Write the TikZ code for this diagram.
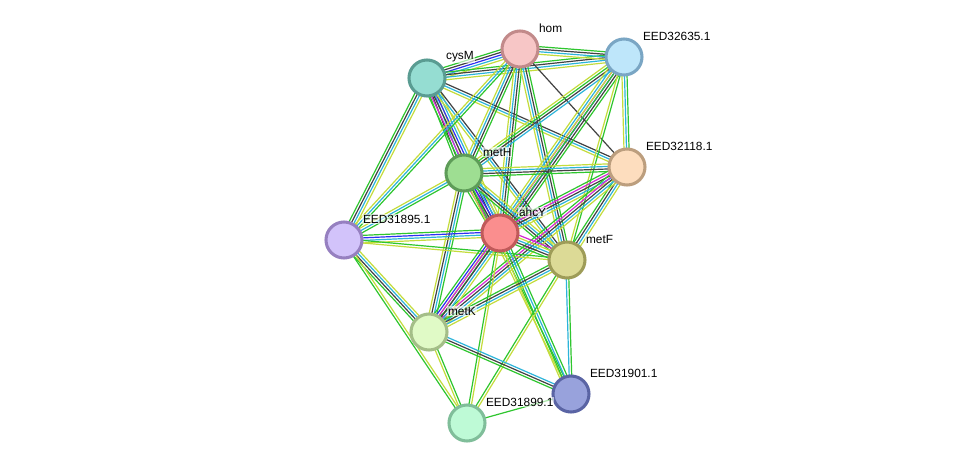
\documentclass[tikz,border=0pt]{standalone}
\usepackage{fontspec}
\setmainfont{Liberation Sans}
\usetikzlibrary{calc,backgrounds}
\definecolor{textmine}{HTML}{C4DC3C}
\definecolor{neighb}{HTML}{2EC62E}
\definecolor{curated}{HTML}{2CB4DA}
\definecolor{coexp}{HTML}{424242}
\definecolor{cooccur}{HTML}{2F2FF2}
\definecolor{experim}{HTML}{D22AD2}
\newcount\chcount
\newcommand{\link}[3]{%
  \global\chcount=0
  \foreach \c in {#3}{\global\advance\chcount by 1}%
  \foreach \c [count=\i] in {#3}{%
    \pgfmathsetmacro{\off}{(\i-(\the\chcount+1)/2)*1.9}%
    \draw[\c, line width=0.9pt]
      ($(#1.center)!\off pt!90:(#2.center)$) -- ($(#2.center)!\off pt!-90:(#1.center)$);
  }%
}
\newcommand{\protein}[6]{%
  \definecolor{#1fill}{HTML}{#4}%
  \definecolor{#1edge}{HTML}{#5}%
  \node[prot, fill=#1fill, draw=#1edge] (#1) at (#2,#3) {};
  \node[plabel] (#1-lbl) at ($(#1)+(18,-21)$) {#6};
}

\begin{document}
\begin{tikzpicture}[
  x=0.75pt,
  y=-0.75pt,
  prot/.style={circle, minimum size=27pt, inner sep=0pt, line width=2.3pt},
  plabel/.style={anchor=west, inner sep=0.6pt, fill=white, fill opacity=0.6,
    text opacity=1, font=\fontsize{8.9}{10}\selectfont}
]
  \protein{hom}{520}{49}{F7C6C6}{C28A8A}{hom}
  \protein{e2635}{624}{57}{BEE6FA}{7AA6C4}{EED32635.1}
  \protein{cysM}{427}{78}{95DDD2}{5A9C92}{cysM}
  \protein{metH}{464}{173}{9EDE92}{5E9C58}{metH}
  \protein{e2118}{627}{167}{FDDDBE}{BC9E7E}{EED32118.1}
  \protein{e1895}{344}{240}{D2C3FA}{9680C0}{EED31895.1}
  \protein{ahcY}{500}{233}{FA8E8E}{C05A5A}{ahcY}
  \protein{metF}{567}{260}{DCDA96}{9E9C58}{metF}
  \protein{metK}{429}{332}{E0FAC6}{A4BE88}{metK}
  \protein{e1901}{571}{394}{98A2DC}{5A64A4}{EED31901.1}
  \protein{e1899}{467}{423}{BEFAD6}{80BE9A}{EED31899.1}

  \begin{pgfonlayer}{background}
    \fill[white] (0,0) rectangle (976,469);
    \link{cysM}{hom}{textmine,curated,cooccur,coexp,neighb}
    \link{cysM}{e2635}{textmine,curated,coexp,neighb}
    \link{hom}{e2635}{textmine,curated,coexp,neighb}
    \link{cysM}{metH}{neighb,coexp,curated,textmine}
    \link{cysM}{ahcY}{neighb,experim,coexp,cooccur,curated,textmine}
    \link{cysM}{e1895}{neighb,coexp,curated,textmine}
    \link{cysM}{metF}{textmine,curated,coexp}
    \link{cysM}{e2118}{textmine,curated,coexp}
    \link{hom}{e1895}{textmine,curated,neighb}
    \link{hom}{metH}{textmine,curated,coexp,neighb}
    \link{hom}{ahcY}{textmine,curated,coexp,neighb}
    \link{hom}{metF}{textmine,curated,coexp,neighb}
    \link{hom}{e2118}{coexp}
    \link{e2635}{metH}{textmine,neighb,coexp,curated}
    \link{e2635}{ahcY}{textmine,curated,experim,cooccur,coexp,neighb}
    \link{e2635}{e2118}{textmine,curated,neighb}
    \link{e2635}{metF}{textmine,neighb}
    \link{e2635}{metK}{textmine,neighb}
    \link{metH}{e1895}{textmine,curated,neighb}
    \link{metH}{ahcY}{neighb,experim,coexp,cooccur,curated,textmine}
    \link{metH}{metF}{neighb,coexp,curated,textmine}
    \link{metH}{e2118}{neighb,coexp,curated,textmine}
    \link{metH}{metK}{textmine,coexp,curated,neighb}
    \link{metH}{e1901}{textmine,neighb}
    \link{e2118}{ahcY}{neighb,experim,coexp,curated,textmine}
    \link{e2118}{metF}{neighb,coexp,curated,textmine}
    \link{e2118}{metK}{neighb,experim,coexp,curated,textmine}
    \link{e1895}{ahcY}{textmine,curated,cooccur,neighb}
    \link{e1895}{metF}{textmine,neighb}
    \link{e1895}{metK}{neighb,coexp,curated,textmine}
    \link{e1895}{e1899}{neighb,textmine}
    \link{ahcY}{metF}{neighb,coexp,curated,textmine,experim}
    \link{ahcY}{metK}{neighb,cooccur,experim,coexp,curated,textmine}
    \link{ahcY}{e1901}{textmine,neighb,curated,neighb}
    \link{ahcY}{e1899}{neighb,textmine}
    \link{metF}{metK}{neighb,coexp,curated,textmine}
    \link{metF}{e1901}{curated,neighb}
    \link{metF}{e1899}{neighb,textmine}
    \link{metK}{e1901}{neighb,coexp,curated}
    \link{metK}{e1899}{textmine,neighb}
    \link{e1899}{e1901}{neighb}
  \end{pgfonlayer}
\end{tikzpicture}
\end{document}
